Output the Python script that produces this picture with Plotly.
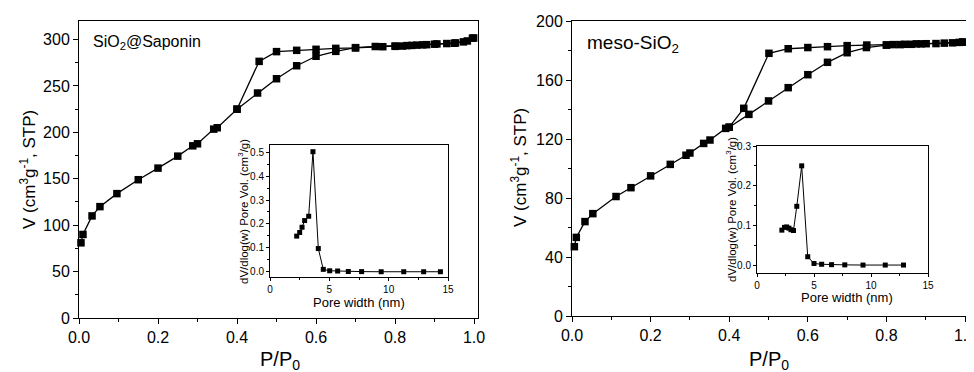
import plotly.graph_objects as go

# ---------------- data ----------------
# SiO2@Saponin isotherm
sap_ads_x = [0.005, 0.01, 0.033, 0.053, 0.096, 0.15, 0.2, 0.25, 0.288, 0.3, 0.341, 0.35, 0.4,
             0.452, 0.5, 0.551, 0.6, 0.65, 0.7, 0.75, 0.8, 0.83, 0.855, 0.88, 0.906, 0.931,
             0.953, 0.973, 0.996]
sap_ads_y = [81, 90, 110, 120, 134, 149, 161.5, 174.4, 185.5, 187.7, 203.5, 205, 225,
             242.4, 257.8, 271.8, 282, 287.3, 291.3, 292.5, 293, 293.5, 294, 294.5, 295.3, 295.7,
             296.4, 297.5, 301.5]
sap_des_x = [0.999, 0.983, 0.95, 0.9, 0.87, 0.842, 0.819, 0.801, 0.769, 0.7, 0.65, 0.6,
             0.551, 0.5, 0.456, 0.4]
sap_des_y = [301.7, 298.5, 296, 295, 294.3, 293.7, 293, 292.7, 292.3, 291, 290.5, 289.5,
             288.4, 287, 276.5, 225]

# meso-SiO2 isotherm
meso_ads_x = [0.006, 0.011, 0.033, 0.053, 0.112, 0.15, 0.2, 0.25, 0.29, 0.3, 0.335, 0.351,
              0.391, 0.4, 0.45, 0.5, 0.55, 0.6, 0.65, 0.7, 0.749, 0.8, 0.835, 0.863, 0.888,
              0.926, 0.968, 0.994]
meso_ads_y = [47, 53.3, 64, 69.4, 81, 87, 95, 102.8, 109, 110.5, 117, 119.3,
              127.2, 128, 136.7, 145.8, 154.8, 163.6, 172, 178.5, 182, 183.7, 184, 184.2, 184.5,
              184.7, 185.2, 185.7]
meso_des_x = [0.994, 0.985, 0.947, 0.901, 0.876, 0.846, 0.817, 0.8, 0.75, 0.7, 0.65, 0.6,
              0.55, 0.501, 0.437, 0.4]
meso_des_y = [185.7, 185.5, 185, 184.6, 184.5, 184.2, 184, 183.7, 183.7, 183.3, 182.6, 182,
              181.2, 178.1, 140.8, 128]

# pore size distributions (insets)
sap_pore_w = [2.25, 2.5, 2.7, 2.92, 3.26, 3.62, 4.07, 4.49, 5.03, 5.7, 6.6, 7.72, 9.37,
              11.27, 12.95, 14.36]
sap_pore_v = [0.149, 0.164, 0.186, 0.214, 0.232, 0.502, 0.097, 0.01, 0.004, 0.003, 0.001,
              0.0005, 0.0, 0.0, 0.0, 0.0]
meso_pore_w = [2.18, 2.41, 2.6, 2.8, 2.98, 3.2, 3.49, 3.92, 4.45, 5.0, 5.67, 6.54, 7.7, 9.3,
               11.25, 12.85]
meso_pore_v = [0.088, 0.095, 0.096, 0.093, 0.089, 0.087, 0.148, 0.25, 0.021, 0.004, 0.002,
               0.001, 0.0005, 0.0, 0.0, 0.0]

main_x_ticks = [0.0, 0.2, 0.4, 0.6, 0.8, 1.0]
sap_y_ticks = [0, 50, 100, 150, 200, 250, 300]
meso_y_ticks = [0, 40, 80, 120, 160, 200]
inset_x_ticks = [0, 5, 10, 15]

W, H = 974, 372
OFF = 8  # page body margin offset
FONT = "Liberation Sans, Arial, sans-serif"


def px_x(p):
    return (p - OFF) / W


def px_y(p):
    return (H - (p - OFF)) / H


fig = go.Figure()

main_marker = dict(symbol="square", size=7.5, color="black")
main_line = dict(color="black", width=1.3)
ins_marker = dict(symbol="square", size=5, color="black")
ins_line = dict(color="black", width=1)

for xs, ys, xa, ya in [(sap_ads_x, sap_ads_y, "x", "y"), (sap_des_x, sap_des_y, "x", "y"),
                       (meso_ads_x, meso_ads_y, "x2", "y2"), (meso_des_x, meso_des_y, "x2", "y2")]:
    fig.add_trace(go.Scatter(x=xs, y=ys, mode="lines+markers", marker=main_marker,
                             line=main_line, xaxis=xa, yaxis=ya, showlegend=False,
                             cliponaxis=False))

fig.add_trace(go.Scatter(x=sap_pore_w, y=sap_pore_v, mode="lines+markers", marker=ins_marker,
                         line=ins_line, xaxis="x3", yaxis="y3", showlegend=False))
fig.add_trace(go.Scatter(x=meso_pore_w, y=meso_pore_v, mode="lines+markers", marker=ins_marker,
                         line=ins_line, xaxis="x4", yaxis="y4", showlegend=False))


def ax(domain, rng, tickvals, fmt, minor_dtick, anchor, size, ticklen, mticklen):
    return dict(domain=domain, range=rng, tickvals=tickvals, tickformat=fmt, anchor=anchor,
                showline=True, mirror=True, linecolor="black", linewidth=1,
                ticks="outside", ticklen=ticklen, tickwidth=1, tickcolor="black",
                minor=dict(dtick=minor_dtick, ticks="outside", ticklen=mticklen,
                           tickcolor="black", tickwidth=1, showgrid=False),
                showgrid=False, zeroline=False, automargin=False,
                tickfont=dict(family=FONT, size=size, color="black"))


fig.update_layout(
    width=W, height=H, margin=dict(l=0, r=0, t=0, b=0, pad=0, autoexpand=False),
    paper_bgcolor="white", plot_bgcolor="white",
    xaxis=ax([px_x(79), px_x(478)], [0, 1.01], main_x_ticks, ".1f", 0.1, "y", 16, 5, 3),
    yaxis=ax([px_y(318), px_y(21)], [0, 320], sap_y_ticks, "d", 25, "x", 16, 5, 3),
    xaxis2=ax([px_x(572), px_x(969)], [0, 1.01], main_x_ticks, ".1f", 0.1, "y2", 16, 5, 3),
    yaxis2=ax([px_y(316), px_y(21)], [0, 200], meso_y_ticks, "d", 20, "x2", 16, 5, 3),
    xaxis3=ax([px_x(270), px_x(448)], [0, 15], inset_x_ticks, "d", 2.5, "y3", 10, 3, 2),
    yaxis3=ax([px_y(277), px_y(145)], [-0.022, 0.53], [0, 0.1, 0.2, 0.3, 0.4, 0.5], ".1f",
              0.05, "x3", 10, 3, 2),
    xaxis4=ax([px_x(757), px_x(928)], [0, 15], inset_x_ticks, "d", 2.5, "y4", 10, 3, 2),
    yaxis4=ax([px_y(273), px_y(146)], [-0.02, 0.3], [0, 0.1, 0.2, 0.3], ".1f",
              0.05, "x4", 10, 3, 2),
)

anns = [
    dict(text="SiO<sub>2</sub>@Saponin", x=px_x(91), y=px_y(42), xanchor="left",
         yanchor="middle", font=dict(size=16)),
    dict(text="meso-SiO<sub>2</sub>", x=px_x(585), y=px_y(44), xanchor="left",
         yanchor="middle", font=dict(size=19)),
    dict(text="P/P<sub>0</sub>", x=px_x(280), y=px_y(360), xanchor="center",
         yanchor="middle", font=dict(size=20)),
    dict(text="P/P<sub>0</sub>", x=px_x(769), y=px_y(360), xanchor="center",
         yanchor="middle", font=dict(size=20)),
    dict(text="V (cm<sup>3</sup>g<sup>-1</sup>, STP)", x=px_x(28), y=px_y(170),
         xanchor="center", yanchor="middle", textangle=-90, font=dict(size=17)),
    dict(text="V (cm<sup>3</sup>g<sup>-1</sup>, STP)", x=px_x(519), y=px_y(168),
         xanchor="center", yanchor="middle", textangle=-90, font=dict(size=17)),
    dict(text="Pore width (nm)", x=px_x(359), y=px_y(302), xanchor="center",
         yanchor="middle", font=dict(size=13)),
    dict(text="Pore width (nm)", x=px_x(847), y=px_y(297), xanchor="center",
         yanchor="middle", font=dict(size=13)),
    dict(text="dV/dlog(w) Pore Vol. (cm<sup>3</sup>/g)", x=px_x(243), y=px_y(212),
         xanchor="center", yanchor="middle", textangle=-90, font=dict(size=11.5)),
    dict(text="dV/dlog(w) Pore Vol. (cm<sup>3</sup>/g)", x=px_x(731), y=px_y(210),
         xanchor="center", yanchor="middle", textangle=-90, font=dict(size=11.5)),
]
for a in anns:
    a.update(xref="paper", yref="paper", showarrow=False)
    a["font"].update(family=FONT, color="black")
fig.update_layout(annotations=anns)

fig.write_html("out.html")
